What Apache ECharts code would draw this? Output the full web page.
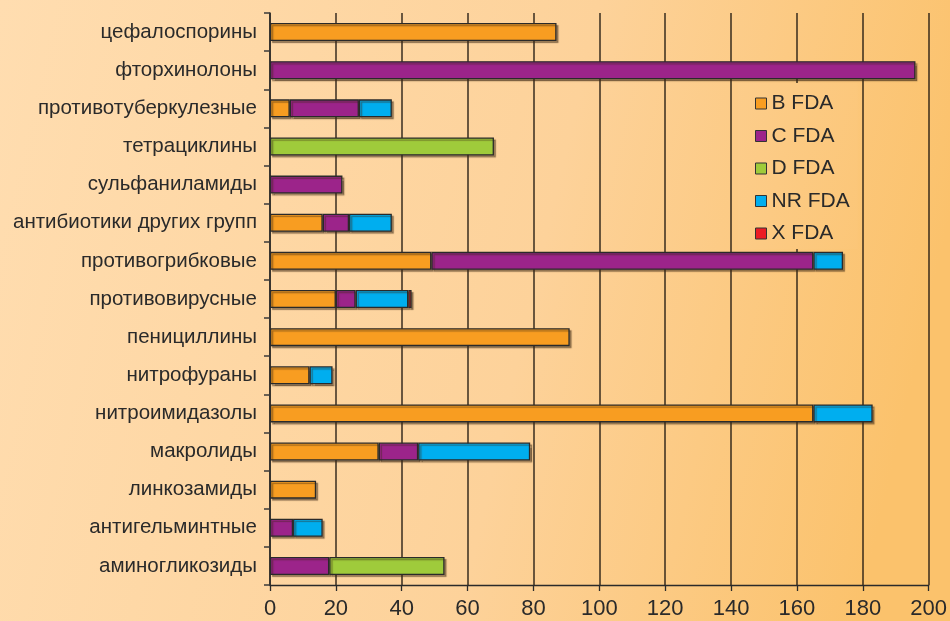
<!DOCTYPE html>
<html>
<head>
<meta charset="utf-8">
<script src="https://cdn.jsdelivr.net/npm/echarts@6/dist/echarts.min.js"></script>
<style>
html,body{margin:0;padding:0;}
#c{width:950px;height:621px;}
</style>
</head>
<body>
<div id="c"></div>
<script>
var categories = ['цефалоспорины','фторхинолоны','противотуберкулезные','тетрациклины','сульфаниламиды','антибиотики других групп','противогрибковые','противовирусные','пенициллины','нитрофураны','нитроимидазолы','макролиды','линкозамиды','антигельминтные','аминогликозиды'];
var seriesNames = ['B FDA','C FDA','D FDA','NR FDA','X FDA'];
var B_FDA  = [87,0,6,0,0,16,49,20,91,12,165,33,14,0,0];
var C_FDA  = [0,196,21,0,22,8,116,6,0,0,0,12,0,7,18];
var D_FDA  = [0,0,0,68,0,0,0,0,0,0,0,0,0,0,35];
var NR_FDA = [0,0,10,0,0,13,9,16,0,7,18,34,0,9,0];
var X_FDA  = [0,0,0,0,0,0,0,1,0,0,0,0,0,0,0];
var xTicks = [0,20,40,60,80,100,120,140,160,180,200];

var colors = ['#F89D21','#9C248A','#9FCB3B','#00AEEF','#EC1C24'];
var allData = [B_FDA, C_FDA, D_FDA, NR_FDA, X_FDA];
var font = '"Liberation Sans", Arial, sans-serif';

var legendLeft = 738, legendTop = 83;
function bg(ox, oy){
  return {type:'linear', x:-ox, y:-oy, x2:950-ox, y2:217-oy, global:true, colorStops:[
    {offset:0, color:'#FFDDB0'},{offset:0.6, color:'#FDD29A'},{offset:1, color:'#FBC26C'}]};
}

var chart = echarts.init(document.getElementById('c'));
var series = seriesNames.map(function(n, i){
  return {
    name: n, type: 'bar', stack: 'total', barWidth: 18,
    data: allData[i].map(function(v){ return v === 0 ? '-' : v; }),
    itemStyle: {
      color: colors[i], borderColor: '#2a2a2a', borderWidth: 1.3,
      shadowColor: 'rgba(60,40,20,0.45)', shadowOffsetX: 2, shadowOffsetY: 2, shadowBlur: 1
    },
    emphasis: {disabled: true}
  };
});

chart.setOption({
  animation: false,
  backgroundColor: bg(0, 0),
  textStyle: {fontFamily: font},
  legend: {
    orient: 'vertical', left: legendLeft, top: legendTop,
    padding: [10, 8, 5, 17],
    backgroundColor: bg(legendLeft, legendTop),
    itemWidth: 11, itemHeight: 11, itemGap: 11.5,
    icon: 'rect',
    itemStyle: {borderColor: '#333', borderWidth: 1},
    textStyle: {fontSize: 21, color: '#2a2a2a', fontFamily: font, lineHeight: 21},
    data: seriesNames
  },
  grid: {left: 270, right: 21, top: 13, bottom: 36, containLabel: false},
  xAxis: {
    type: 'value', min: 0, max: 200, interval: 20,
    axisLine: {show: true, lineStyle: {color: '#2a2a2a', width: 1.3}},
    axisTick: {show: true, length: 6, lineStyle: {color: '#2a2a2a', width: 1.3}},
    splitLine: {show: true, lineStyle: {color: 'rgba(30,22,15,0.88)', width: 1.5}},
    axisLabel: {fontSize: 22, color: '#2a2a2a', margin: 13, fontFamily: font,
      formatter: function(v){ return xTicks.indexOf(v) >= 0 ? String(v) : ''; }}
  },
  yAxis: {
    type: 'category', inverse: true, data: categories,
    axisLine: {show: true, lineStyle: {color: '#2a2a2a', width: 1.5}},
    axisTick: {show: true, length: 6, lineStyle: {color: '#3a3a3a', width: 1.5}},
    axisLabel: {fontSize: 20.5, color: '#2a2a2a', margin: 13, fontFamily: font}
  },
  series: series
});
</script>
</body>
</html>
